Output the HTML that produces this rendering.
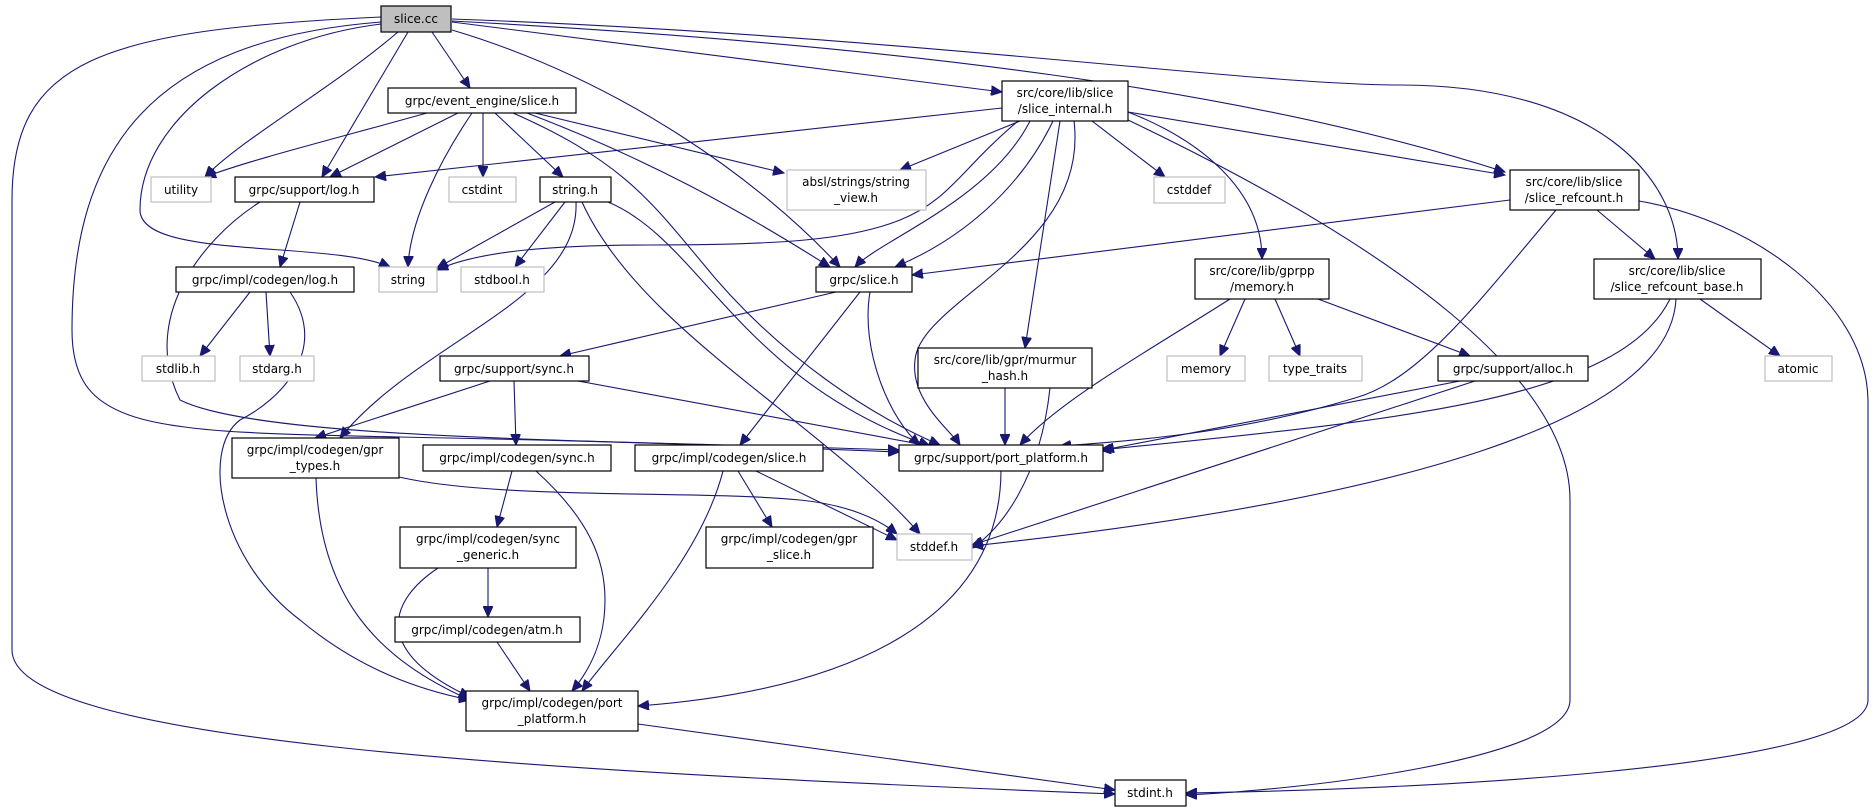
<!DOCTYPE html>
<html><head><meta charset="utf-8"><style>
html,body{margin:0;padding:0;background:#fff;}
svg{display:block;}
text{font-family:"DejaVu Sans","Liberation Sans",sans-serif;font-size:12px;fill:#000;}
.n rect{fill:#fff;stroke:#000;stroke-width:1.2;}
.g rect{fill:#fff;stroke:#bfbfbf;stroke-width:1.2;}
.e path{fill:none;stroke:#191970;stroke-width:1.1;marker-end:url(#a);}
</style></head><body>
<svg width="1875" height="812" viewBox="0 0 1875 812" xmlns="http://www.w3.org/2000/svg">
<defs><marker id="a" markerUnits="userSpaceOnUse" markerWidth="12" markerHeight="10" refX="11" refY="5" orient="auto"><path d="M0,0 L11,5 L0,10 z" fill="#191970" stroke="#191970"/></marker></defs>
<g class="e">
<path d="M398,32 C330,90 240,140 205,177"/>
<path d="M408,32 L322,177"/>
<path d="M432,32 L470,88"/>
<path d="M381,24 C250,40 140,120 140,210 C140,260 330,240 390,267"/>
<path d="M381,22 C150,40 72,150 72,330 C72,430 150,432 400,437 C650,442 800,448 899,452"/>
<path d="M381,17 C100,30 12,60 12,200 L12,650 C12,740 500,770 1115,794"/>
<path d="M452,22 L1002,92"/>
<path d="M452,30 C620,80 760,180 840,267"/>
<path d="M452,21 C900,45 1250,90 1505,172"/>
<path d="M452,19 C900,35 1250,85 1400,85 C1600,85 1678,180 1678,259"/>
<path d="M427,113 C330,140 250,160 205,177"/>
<path d="M458,113 L330,177"/>
<path d="M472,113 C440,160 410,220 408,267"/>
<path d="M483,113 L483,177"/>
<path d="M495,113 L563,177"/>
<path d="M535,113 L784,173"/>
<path d="M527,113 C650,160 740,210 830,267"/>
<path d="M513,113 C620,160 650,200 700,260 C780,360 880,420 940,445"/>
<path d="M1002,108 L375,177"/>
<path d="M1018,121 C960,170 950,200 900,220 C850,240 780,245 650,245 C560,245 480,250 437,270"/>
<path d="M1053,121 C1020,190 960,240 895,267"/>
<path d="M1030,121 C990,200 880,240 855,267"/>
<path d="M1020,121 L900,170"/>
<path d="M1092,121 L1165,177"/>
<path d="M1128,112 C1200,140 1262,190 1262,259"/>
<path d="M1060,121 L1025,348"/>
<path d="M1074,121 C1090,250 920,300 915,360 C910,400 950,430 960,445"/>
<path d="M1128,112 L1505,175"/>
<path d="M1128,120 C1400,250 1570,380 1570,500 L1570,700 C1570,760 1300,790 1186,795"/>
<path d="M555,202 L437,268"/>
<path d="M565,202 L515,267"/>
<path d="M576,202 C580,300 420,340 340,438"/>
<path d="M582,202 C640,330 820,420 920,534"/>
<path d="M608,202 C700,240 740,380 930,446"/>
<path d="M300,202 L280,267"/>
<path d="M260,202 C200,240 140,320 180,400 C260,440 600,440 899,450"/>
<path d="M250,292 L200,356"/>
<path d="M266,292 L270,356"/>
<path d="M290,292 C330,350 280,400 240,420 C200,450 220,560 300,620 C360,670 420,690 470,700"/>
<path d="M836,292 L560,356"/>
<path d="M860,292 L740,445"/>
<path d="M870,292 C860,350 890,420 920,445"/>
<path d="M1245,299 L1220,356"/>
<path d="M1275,299 L1300,356"/>
<path d="M1318,299 L1470,356"/>
<path d="M1230,299 C1150,350 1060,400 1020,445"/>
<path d="M1510,200 L912,275"/>
<path d="M1597,210 L1655,259"/>
<path d="M1556,210 C1480,300 1420,380 1355,398 C1250,430 1150,440 1060,446"/>
<path d="M1639,201 C1750,220 1866,300 1868,400 L1868,700 C1868,770 1400,790 1186,793"/>
<path d="M1700,299 L1780,356"/>
<path d="M1670,299 C1620,400 1400,420 1100,450"/>
<path d="M1676,299 C1670,420 1400,500 972,546"/>
<path d="M1460,381 L1103,450"/>
<path d="M1475,381 L972,545"/>
<path d="M1005,388 L1005,445"/>
<path d="M1050,388 C1040,480 1000,530 972,548"/>
<path d="M490,381 L315,438"/>
<path d="M514,381 L516,445"/>
<path d="M578,381 L930,446"/>
<path d="M399,477 C500,500 700,490 800,500 C850,505 880,520 897,534"/>
<path d="M316,478 C320,600 380,660 470,700"/>
<path d="M512,471 L497,527"/>
<path d="M536,471 C590,520 605,560 605,600 C605,640 590,670 572,691"/>
<path d="M738,471 L772,527"/>
<path d="M756,471 L897,540"/>
<path d="M723,471 C700,560 620,640 582,691"/>
<path d="M488,568 L488,617"/>
<path d="M438,568 C390,600 370,650 470,697"/>
<path d="M497,642 L530,691"/>
<path d="M1001,471 C1000,620 850,690 638,706"/>
<path d="M638,724 L1115,790"/>
</g>
<g text-anchor="middle">
<g class="n"><rect x="381" y="6" width="70" height="26" style="fill:#bfbfbf"/><text x="416" y="23">slice.cc</text></g>
<g class="n"><rect x="388" y="88" width="188" height="25"/><text x="482" y="105">grpc/event_engine/slice.h</text></g>
<g class="n"><rect x="1002" y="81" width="126" height="40"/><text x="1065" y="97">src/core/lib/slice</text><text x="1065" y="113">/slice_internal.h</text></g>
<g class="g"><rect x="151" y="177" width="60" height="25"/><text x="181" y="194">utility</text></g>
<g class="n"><rect x="235" y="177" width="139" height="25"/><text x="304" y="194">grpc/support/log.h</text></g>
<g class="g"><rect x="449" y="177" width="67" height="25"/><text x="482" y="194">cstdint</text></g>
<g class="n"><rect x="540" y="177" width="71" height="25"/><text x="575" y="194">string.h</text></g>
<g class="g"><rect x="787" y="170" width="139" height="40"/><text x="856" y="186">absl/strings/string</text><text x="856" y="202">_view.h</text></g>
<g class="g"><rect x="1154" y="177" width="71" height="26"/><text x="1189" y="194">cstddef</text></g>
<g class="n"><rect x="1510" y="170" width="129" height="40"/><text x="1574" y="186">src/core/lib/slice</text><text x="1574" y="202">/slice_refcount.h</text></g>
<g class="g"><rect x="379" y="267" width="58" height="25"/><text x="408" y="284">string</text></g>
<g class="g"><rect x="461" y="267" width="83" height="25"/><text x="502" y="284">stdbool.h</text></g>
<g class="n"><rect x="816" y="267" width="96" height="25"/><text x="864" y="284">grpc/slice.h</text></g>
<g class="n"><rect x="1195" y="259" width="134" height="40"/><text x="1262" y="275">src/core/lib/gprpp</text><text x="1262" y="291">/memory.h</text></g>
<g class="n"><rect x="1594" y="259" width="167" height="40"/><text x="1677" y="275">src/core/lib/slice</text><text x="1677" y="291">/slice_refcount_base.h</text></g>
<g class="n"><rect x="176" y="267" width="178" height="25"/><text x="265" y="284">grpc/impl/codegen/log.h</text></g>
<g class="g"><rect x="142" y="356" width="73" height="25"/><text x="178" y="373">stdlib.h</text></g>
<g class="g"><rect x="240" y="356" width="74" height="25"/><text x="277" y="373">stdarg.h</text></g>
<g class="n"><rect x="440" y="356" width="149" height="25"/><text x="514" y="373">grpc/support/sync.h</text></g>
<g class="g"><rect x="1167" y="356" width="78" height="25"/><text x="1206" y="373">memory</text></g>
<g class="g"><rect x="1269" y="356" width="93" height="25"/><text x="1315" y="373">type_traits</text></g>
<g class="n"><rect x="1438" y="356" width="150" height="25"/><text x="1513" y="373">grpc/support/alloc.h</text></g>
<g class="g"><rect x="1765" y="356" width="67" height="25"/><text x="1798" y="373">atomic</text></g>
<g class="n"><rect x="918" y="348" width="174" height="40"/><text x="1005" y="364">src/core/lib/gpr/murmur</text><text x="1005" y="380">_hash.h</text></g>
<g class="n"><rect x="232" y="438" width="167" height="40"/><text x="315" y="454">grpc/impl/codegen/gpr</text><text x="315" y="470">_types.h</text></g>
<g class="n"><rect x="423" y="445" width="188" height="26"/><text x="517" y="462">grpc/impl/codegen/sync.h</text></g>
<g class="n"><rect x="635" y="445" width="188" height="26"/><text x="729" y="462">grpc/impl/codegen/slice.h</text></g>
<g class="n"><rect x="899" y="445" width="204" height="26"/><text x="1001" y="462">grpc/support/port_platform.h</text></g>
<g class="n"><rect x="400" y="527" width="176" height="41"/><text x="488" y="543">grpc/impl/codegen/sync</text><text x="488" y="559">_generic.h</text></g>
<g class="n"><rect x="706" y="527" width="167" height="41"/><text x="789" y="543">grpc/impl/codegen/gpr</text><text x="789" y="559">_slice.h</text></g>
<g class="g"><rect x="897" y="534" width="75" height="26"/><text x="934" y="551">stddef.h</text></g>
<g class="n"><rect x="395" y="617" width="185" height="25"/><text x="487" y="634">grpc/impl/codegen/atm.h</text></g>
<g class="n"><rect x="466" y="691" width="172" height="40"/><text x="552" y="707">grpc/impl/codegen/port</text><text x="552" y="723">_platform.h</text></g>
<g class="n"><rect x="1115" y="780" width="71" height="26"/><text x="1150" y="797">stdint.h</text></g>
</g>
</svg>
</body></html>
